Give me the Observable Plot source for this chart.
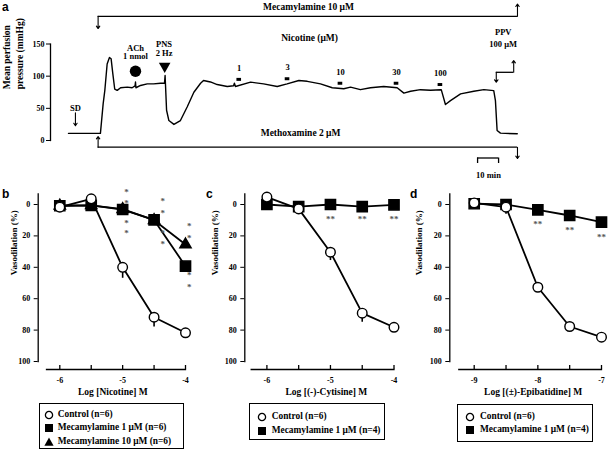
<!DOCTYPE html>
<html>
<head>
<meta charset="utf-8">
<script src="https://cdn.jsdelivr.net/npm/d3@7"></script>
<script src="https://cdn.jsdelivr.net/npm/@observablehq/plot@0.6"></script>
<style>
  html, body { margin: 0; padding: 0; background: #fff; }
  #fig { position: relative; width: 608px; height: 451px; overflow: hidden; background: #fff;
         font-family: "Liberation Serif", "Times New Roman", serif; font-weight: bold; color: #000; }
  #fig svg { overflow: visible; }
  .plab { position: absolute; font-family: "Liberation Sans", Arial, sans-serif; font-weight: bold; font-size: 12px; line-height: 1; }
  .legend { position: absolute; border: 1.3px solid #000; box-sizing: border-box; }
  .legend .row { position: absolute; font-size: 9.4px; line-height: 12px; white-space: nowrap; }
  .legend svg { position: absolute; }
</style>
</head>
<body>
<div id="fig"></div>
<script>
// ---------------- Panel a: perfusion pressure trace ----------------
const traceMin = [0,15.2,16.5,17.3,18.4,19.5,20.3,21.1,22,23.2,24.8,28,30.3,31.7,31.9,32.1,34.3,37.5,40.5,43.8,45.7,46,46.7,47.8,50.2,53.3,56.5,59.7,62.9,64.3,67.6,70.8,75.6,78.6,79,79.5,86.7,92.9,99.4,104.1,109.7,113.7,120,125.6,131.1,134.3,139,143.8,150.1,156.5,159.7,162.9,167.6,172.4,177.5,179.5,181.9,186.7,193,197.8,202.5,203.3,204.1,205.7,213.7];
const traceMmHg = [11,11,57,78,119,129,127,104,80,78,82,83,82,85,91,82,85.5,88,88,89,89,101,47,31,25,31,52,75,89,93.3,91,87,84,85,89,84,90.7,88,84,88,93.3,92,88,82,80.4,83,79,82,84,82,73.6,76.5,79,78,79,56,62,72.5,76.6,79,77.5,62,15.5,11.4,10.4];
const pressureTicks = [0, 50, 100, 150];
const doseLabels = ["1", "3", "10", "30", "100"];
const doseTimes = [81.3, 104.3, 129.5, 156.2, 177.1];
const doseBarLevel = [95, 96, 89, 89, 87];

// ---------------- Panels b-d: dose-response ----------------
const vasoTicks = [0, 20, 40, 60, 80, 100];

const nicLogConc = [-6, -5.5, -5, -4.5, -4];
const nicControl = [1.7, -3.6, 40, 71.8, 81.7];
const nicControlSem = [1.5, 1.5, 7, 6.3, 1.5];
const nicMeca1 = [0.8, 0.6, 3.2, 9.8, 39.3];
const nicMeca10 = [0.8, 0.5, 3, 10, 25.5];
const nicStarX = [-4.94, -4.94, -4.94, -4.94, -4.36, -4.36, -4.36, -4.36, -3.94, -3.94, -3.94, -3.94];
const nicStarY = [-9.4, -2.1, 10.6, 17.2, -3.2, 4, 17, 24, 12.7, 20.1, 44, 51.6];

const cytLogConc = [-6, -5.5, -5, -4.5, -4];
const cytControl = [-4.7, 2.8, 30.4, 69.2, 78.2];
const cytControlSem = [1, 1, 5.3, 5.8, 1.5];
const cytMeca1 = [0, 1.3, 0, 1.3, 0.2];
const cytStarX = [-5, -4.5, -4];
const cytStarY = [8, 8, 8];

const epiLogConc = [-9, -8.5, -8, -7.5, -7];
const epiControl = [-1, 1.7, 52.7, 77.7, 84.5];
const epiControlSem = [1, 4.5, 2, 2, 1.5];
const epiMeca1 = [-0.5, 0, 3.4, 7, 11.2];
const epiStarX = [-8, -7.5, -7];
const epiStarY = [11.3, 14.8, 19.7];

// ---------------- helpers ----------------
const fig = document.getElementById("fig");
const serif = '"Liberation Serif", "Times New Roman", serif';
const baseStyle = {fontFamily: serif, fontWeight: "bold", fontSize: "8px", background: "transparent", overflow: "visible", color: "#000"};

function place(el, left, top) {
  el.style.position = "absolute";
  el.style.left = left + "px";
  el.style.top = top + "px";
  fig.appendChild(el);
}
function panelLabel(txt, left, top) {
  const d = document.createElement("div");
  d.className = "plab";
  d.textContent = txt;
  place(d, left, top);
}

// ---------------- Panel a ----------------
const trace = traceMin.map((t, i) => ({t, p: traceMmHg[i]}));
const doses = doseLabels.map((label, i) => ({label, t: doseTimes[i], level: doseBarLevel[i]}));
const ann = {fontSize: 9.5, fontFamily: serif, fontWeight: "bold"};
const small = {fontSize: 8.5, fontFamily: serif, fontWeight: "bold"};
const arrowOpts = {strokeWidth: 1.1, headLength: 4, headAngle: 70};

const aPlot = Plot.plot({
  width: 608, height: 185,
  marginLeft: 50, marginRight: 0, marginTop: 43.5, marginBottom: 45,
  style: baseStyle,
  x: {domain: [0, 210], range: [68, 68 + 210 * 2.1], axis: null},
  y: {domain: [0, 150], range: [140, 43.5], axis: null},
  marks: [
    Plot.frame({anchor: "left", strokeWidth: 1.3}),
    Plot.axisY({ticks: pressureTicks, tickSize: 4, tickPadding: 2, tickFormat: d => d, label: null, fontSize: 8}),
    Plot.text(["Mean perfusion\npressure (mmHg)"], {text: d => d, frameAnchor: "left", rotate: -90, dx: -38, dy: -3, lineHeight: 1.3, ...ann}),
    Plot.line(trace, {x: "t", y: "p", stroke: "#000", strokeWidth: 1.4}),
    // Mecamylamine bracket
    Plot.ruleY([193], {x1: 14.1, x2: 213.8, strokeWidth: 1.3}),
    Plot.arrow([0], {x1: 14.1, x2: 14.1, y1: 193, y2: 174, ...arrowOpts}),
    Plot.arrow([0], {x1: 213.8, x2: 213.8, y1: 193, y2: 212, ...arrowOpts}),
    Plot.text(["Mecamylamine 10 μM"], {text: d => d, x: 114.3, y: 208, ...ann}),
    // Methoxamine bracket
    Plot.ruleY([-10.4], {x1: 14.1, x2: 213.8, strokeWidth: 1.3}),
    Plot.arrow([0], {x1: 14.1, x2: 14.1, y1: -10.4, y2: 6.2, ...arrowOpts}),
    Plot.arrow([0], {x1: 213.8, x2: 213.8, y1: -10.4, y2: -28, ...arrowOpts}),
    Plot.text(["Methoxamine 2 μM"], {text: d => d, x: 110.5, y: 11.4, ...ann}),
    // Nicotine doses
    Plot.text(["Nicotine (μM)"], {text: d => d, x: 114.8, y: 159, ...ann}),
    Plot.ruleY(doses, {y: "level", x1: d => d.t - 1.1, x2: d => d.t + 1.1, strokeWidth: 3}),
    Plot.text(doses, {x: "t", y: "level", text: "label", dy: -11, ...small}),
    // SD
    Plot.text(["SD"], {text: d => d, x: 3.3, y: 50.2, ...small}),
    Plot.arrow([0], {x1: 3.3, x2: 3.3, y1: 43, y2: 23, ...arrowOpts}),
    // ACh
    Plot.text(["ACh"], {text: d => d, x: 31.9, y: 144, ...small}),
    Plot.text(["1 nmol"], {text: d => d, x: 31.9, y: 130.5, ...small}),
    Plot.dot([0], {x: 31.9, y: 107.7, r: 5.7, fill: "#000", stroke: "none"}),
    // PNS
    Plot.text(["PNS"], {text: d => d, x: 45.5, y: 149.5, ...small}),
    Plot.text(["2 Hz"], {text: d => d, x: 45.5, y: 136, ...small}),
    Plot.dot([0], {x: 45.8, y: 115.5, r: 4.3, symbol: "triangle", rotate: 180, fill: "#000", stroke: "none"}),
    // PPV
    Plot.text(["PPV"], {text: d => d, x: 207, y: 168.4, ...small}),
    Plot.text(["100 μM"], {text: d => d, x: 207, y: 150.3, ...small}),
    Plot.arrow([0], {x1: 203.7, x2: 203.7, y1: 106, y2: 90.6, ...arrowOpts}),
    Plot.ruleY([106], {x1: 203.7, x2: 212, strokeWidth: 1.3}),
    Plot.arrow([0], {x1: 212, x2: 212, y1: 106, y2: 124.4, ...arrowOpts}),
    // time scale bar
    Plot.ruleY([-27.2], {x1: 194.8, x2: 204.8, strokeWidth: 1.3}),
    Plot.ruleX([194.8, 204.8], {y1: -27.2, y2: -35.8, strokeWidth: 1.3}),
    Plot.text(["10 min"], {text: d => d, x: 200, y: -54.4, ...small})
  ]
});
place(aPlot, 0, 0);
panelLabel("a", 2, 1);

// ---------------- dose-response panel builder ----------------
function drPanel(cfg) {
  const top = 180, height = 220, mt = 13.3, mb = 31;
  const frameH = height - mt - mb;
  const marks = [
    Plot.frame({anchor: "left", insetBottom: 8, strokeWidth: 1.3}),
    Plot.frame({anchor: "bottom", insetLeft: cfg.axisInset, strokeWidth: 1.3}),
    Plot.tickX(cfg.xMinor, {x: d => d, insetTop: frameH - 4, strokeWidth: 1.3}),
    Plot.axisX({ticks: cfg.xMajor, tickSize: 0, tickPadding: 8, tickFormat: d => String(d), label: null, fontSize: 8}),
    Plot.axisY({ticks: vasoTicks, tickSize: 4, tickPadding: 4, tickFormat: d => d, label: null, fontSize: 8}),
    Plot.text([cfg.title], {text: d => d, frameAnchor: "bottom", dy: 25, dx: cfg.titleDx, fontSize: 9.5, fontFamily: serif, fontWeight: "bold"}),
    Plot.text(["Vasodilation (%)"], {text: d => d, frameAnchor: "left", rotate: -90, dx: cfg.ylabDx, dy: -6.5, fontSize: 9, fontFamily: serif, fontWeight: "bold"})
  ];
  for (const s of cfg.series) {
    const data = cfg.conc.map((x, i) => ({x, y: s.values[i], sem: s.sem ? s.sem[i] : 0}));
    marks.push(Plot.line(data, {x: "x", y: "y", stroke: "#000", strokeWidth: 1.8}));
    if (s.sem) marks.push(Plot.ruleX(data, {x: "x", y1: "y", y2: d => d.y + d.sem, strokeWidth: 1.6}));
  }
  for (const s of cfg.series) {
    const data = cfg.conc.map((x, i) => ({x, y: s.values[i]}));
    marks.push(Plot.dot(data, {x: "x", y: "y", symbol: s.symbol, r: s.r, fill: s.fill, stroke: "#000", strokeWidth: 1.4}));
  }
  const stars = cfg.starX.map((x, i) => ({x, y: cfg.starY[i]}));
  marks.push(Plot.text(stars, {x: "x", y: "y", text: () => cfg.starText, dy: 2, fill: "#555", fontSize: 9, fontFamily: serif}));
  const p = Plot.plot({
    width: cfg.width, height,
    marginLeft: cfg.marginLeft, marginRight: cfg.width - cfg.xRange[1], marginTop: mt, marginBottom: mb,
    style: baseStyle,
    x: {domain: cfg.xDomain, range: cfg.xRange, axis: null},
    y: {domain: [0, 100], range: [24, 181], axis: null},
    marks
  });
  place(p, cfg.left, top);
}

function legend(box, items) {
  const d = document.createElement("div");
  d.className = "legend";
  d.style.width = box.w + "px";
  d.style.height = box.h + "px";
  items.forEach((it, i) => {
    const cy = box.rows[i];
    const svg = d3.create("svg").attr("width", 12).attr("height", 12)
      .style("left", (box.sx - 6) + "px").style("top", (cy - 6) + "px");
    const g = svg.append("g").attr("transform", "translate(6,6)");
    if (it.symbol === "circle") g.append("circle").attr("r", 3.6).attr("fill", "#fff").attr("stroke", "#000").attr("stroke-width", 1.3);
    else if (it.symbol === "square") g.append("rect").attr("x", -4).attr("y", -4).attr("width", 8).attr("height", 8).attr("fill", "#000");
    else g.append("path").attr("d", "M0,-4.6L4.6,3.8L-4.6,3.8Z").attr("fill", "#000");
    d.appendChild(svg.node());
    const t = document.createElement("div");
    t.className = "row";
    t.textContent = it.label;
    t.style.left = box.tx + "px";
    t.style.top = (cy - 6.5) + "px";
    d.appendChild(t);
  });
  place(d, box.left, box.top);
}

// ---------------- Panel b ----------------
drPanel({
  left: 0, width: 200, marginLeft: 37.7, axisInset: 8.3,
  xDomain: [-6, -4], xRange: [59.3, 185], conc: nicLogConc,
  xMinor: nicLogConc, xMajor: [-6, -5, -4],
  title: "Log [Nicotine] M", titleDx: 1, ylabDx: -23.7,
  series: [
    {values: nicMeca10, symbol: "triangle", r: 4.2, fill: "#000"},
    {values: nicMeca1, symbol: "square", r: 5.8, fill: "#000"},
    {values: nicControl, sem: nicControlSem, symbol: "circle", r: 4.8, fill: "#fff"}
  ],
  starX: nicStarX, starY: nicStarY, starText: "*"
});
panelLabel("b", 2, 188);
legend({left: 39.3, top: 402.7, w: 144.7, h: 46.3, rows: [11.3, 24.3, 38], sx: 8.4, tx: 17.4}, [
  {symbol: "circle", label: "Control (n=6)"},
  {symbol: "square", label: "Mecamylamine 1 μM (n=6)"},
  {symbol: "triangle", label: "Mecamylamine 10 μM (n=6)"}
]);

// ---------------- Panel c ----------------
drPanel({
  left: 200, width: 205, marginLeft: 44.3, axisInset: 6.4,
  xDomain: [-6, -4], xRange: [66.4, 193.5], conc: cytLogConc,
  xMinor: cytLogConc, xMajor: [-6, -5, -4],
  title: "Log [(-)-Cytisine] M", titleDx: 7, ylabDx: -29.3,
  series: [
    {values: cytMeca1, symbol: "square", r: 5.8, fill: "#000"},
    {values: cytControl, sem: cytControlSem, symbol: "circle", r: 4.8, fill: "#fff"}
  ],
  starX: cytStarX, starY: cytStarY, starText: "**"
});
panelLabel("c", 206, 188);
legend({left: 249.3, top: 403.3, w: 135.7, h: 36.7, rows: [12.4, 26.7], sx: 11.7, tx: 21.4}, [
  {symbol: "circle", label: "Control (n=6)"},
  {symbol: "square", label: "Mecamylamine 1 μM (n=4)"}
]);

// ---------------- Panel d ----------------
drPanel({
  left: 405, width: 203, marginLeft: 44.3, axisInset: 9,
  xDomain: [-9, -7], xRange: [68.7, 196], conc: epiLogConc,
  xMinor: epiLogConc, xMajor: [-9, -8, -7],
  title: "Log [(±)-Epibatidine] M", titleDx: 7.5, ylabDx: -31,
  series: [
    {values: epiMeca1, symbol: "square", r: 5.8, fill: "#000"},
    {values: epiControl, sem: epiControlSem, symbol: "circle", r: 4.8, fill: "#fff"}
  ],
  starX: epiStarX, starY: epiStarY, starText: "**"
});
panelLabel("d", 410, 188);
legend({left: 456.7, top: 404.3, w: 136, h: 37.4, rows: [11.4, 24.7], sx: 12.3, tx: 22.3}, [
  {symbol: "circle", label: "Control (n=6)"},
  {symbol: "square", label: "Mecamylamine 1 μM (n=4)"}
]);
</script>
</body>
</html>
